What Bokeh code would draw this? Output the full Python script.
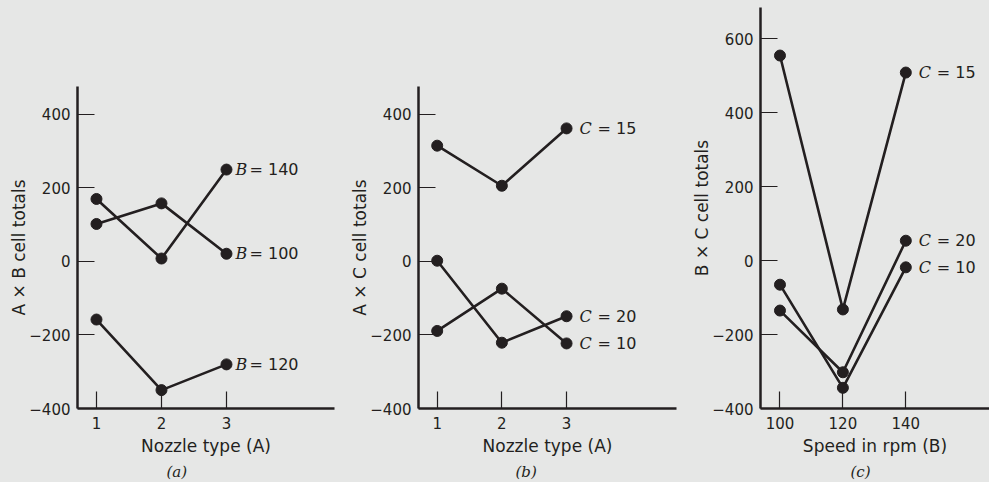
from bokeh.plotting import figure
from bokeh.layouts import row
from bokeh.models import Range1d, FixedTicker, Title
from bokeh.core.properties import value
from bokeh.embed import file_html
from bokeh.resources import INLINE

# ---- data ----
nozzle = [1, 2, 3]
speed = [100, 120, 140]

ab_b100 = [102, 158, 21]
ab_b120 = [-158, -350, -280]
ab_b140 = [170, 8, 250]

ac_c10 = [-189, -74, -223]
ac_c15 = [315, 206, 362]
ac_c20 = [2, -221, -149]

bc_c10 = [-65, -344, -18]
bc_c15 = [555, -132, 509]
bc_c20 = [-135, -302, 54]

y_ticks_ab = [-400, -200, 0, 200, 400]
y_ticks_c = [-400, -200, 0, 200, 400, 600]

# ---- style ----
INK = "#231f20"
BG = "#e6e7e6"
SANS = "DejaVu Sans"
SERIF = "DejaVu Serif"
H = 482


def fmt(t):
    return ("\u2212" + str(abs(t))) if t < 0 else str(t)


def panel(xs, series, xr, yr, xticks, yticks, xlabel, ylabel, tag,
          width, mb_left, mb_right, mb_top, letter_off, eq_off, tag_off):
    p = figure(width=width, height=H, x_range=Range1d(*xr), y_range=Range1d(*yr),
               output_backend="svg", toolbar_location=None, title=None,
               min_border_left=mb_left, min_border_right=mb_right,
               min_border_top=mb_top, min_border_bottom=0)
    p.frame_align = False
    p.background_fill_color = BG
    p.border_fill_color = BG
    p.outline_line_color = None
    p.grid.visible = False

    for ax, ticks in ((p.xaxis[0], xticks), (p.yaxis[0], yticks)):
        ax.ticker = FixedTicker(ticks=ticks, minor_ticks=[])
        ax.major_label_overrides = {t: fmt(t) for t in ticks}
        ax.axis_line_color = INK
        ax.axis_line_width = 2.5
        ax.major_tick_line_color = INK
        ax.major_tick_line_width = 1.2
        ax.major_tick_in = 17
        ax.major_tick_out = 0
        ax.minor_tick_line_color = None
        ax.major_label_text_font = SANS
        ax.major_label_text_font_size = "15px"
        ax.major_label_text_color = INK
        ax.axis_label_text_font = SANS
        ax.axis_label_text_font_size = "17px"
        ax.axis_label_text_font_style = "normal"
        ax.axis_label_text_color = INK

    p.xaxis.axis_label = xlabel
    p.xaxis.major_label_standoff = 8
    p.xaxis.axis_label_standoff = 4
    p.yaxis.axis_label = ylabel
    p.yaxis.major_label_standoff = 7
    p.yaxis.axis_label_standoff = -3

    for ys, letter, level in series:
        p.line(xs, ys, line_color=INK, line_width=2.6)
        p.scatter(xs, ys, size=11, fill_color=INK, line_color=INK)
        p.text(x=[xs[-1]], y=[ys[-1]], text=[letter], x_offset=letter_off,
               text_font=value(SERIF), text_font_style="italic",
               text_font_size="16px", text_color=INK,
               text_align="left", text_baseline="middle")
        p.text(x=[xs[-1]], y=[ys[-1]], text=["= " + str(level)], x_offset=eq_off,
               text_font=value(SANS), text_font_size="16px", text_color=INK,
               text_align="left", text_baseline="middle")

    p.add_layout(Title(text=tag, align="left", offset=tag_off, standoff=4,
                       text_font=SERIF, text_font_style="italic",
                       text_font_size="15px", text_color=INK), "below")
    return p


pa = panel(nozzle, [(ab_b140, "B", 140), (ab_b100, "B", 100), (ab_b120, "B", 120)],
           (0.708, 4.662), (-400, 476), nozzle, y_ticks_ab,
           "Nozzle type (A)", "A \u00d7 B cell totals", "(a)",
           340, 77, 6, 86, 9, 23, 89)

pb = panel(nozzle, [(ac_c15, "C", 15), (ac_c20, "C", 20), (ac_c10, "C", 10)],
           (0.711, 4.70), (-400, 476), nozzle, y_ticks_ab,
           "Nozzle type (A)", "A \u00d7 C cell totals", "(b)",
           345, 78, 9, 86, 13, 31, 97)

pc = panel(speed, [(bc_c15, "C", 15), (bc_c20, "C", 20), (bc_c10, "C", 10)],
           (93.81, 166.6), (-400, 685), speed, y_ticks_c,
           "Speed in rpm (B)", "B \u00d7 C cell totals", "(c)",
           304, 75, 0, 7, 13, 31, 90)

layout = row(pa, pb, pc, spacing=0)
layout.styles = {"background-color": BG}

html = file_html(layout, INLINE, "Cell totals")
html = html.replace("<html", '<html style="background-color:%s"' % BG, 1)
html = html.replace("<body", '<body style="background-color:%s"' % BG, 1)
open("out.html", "w").write(html)
